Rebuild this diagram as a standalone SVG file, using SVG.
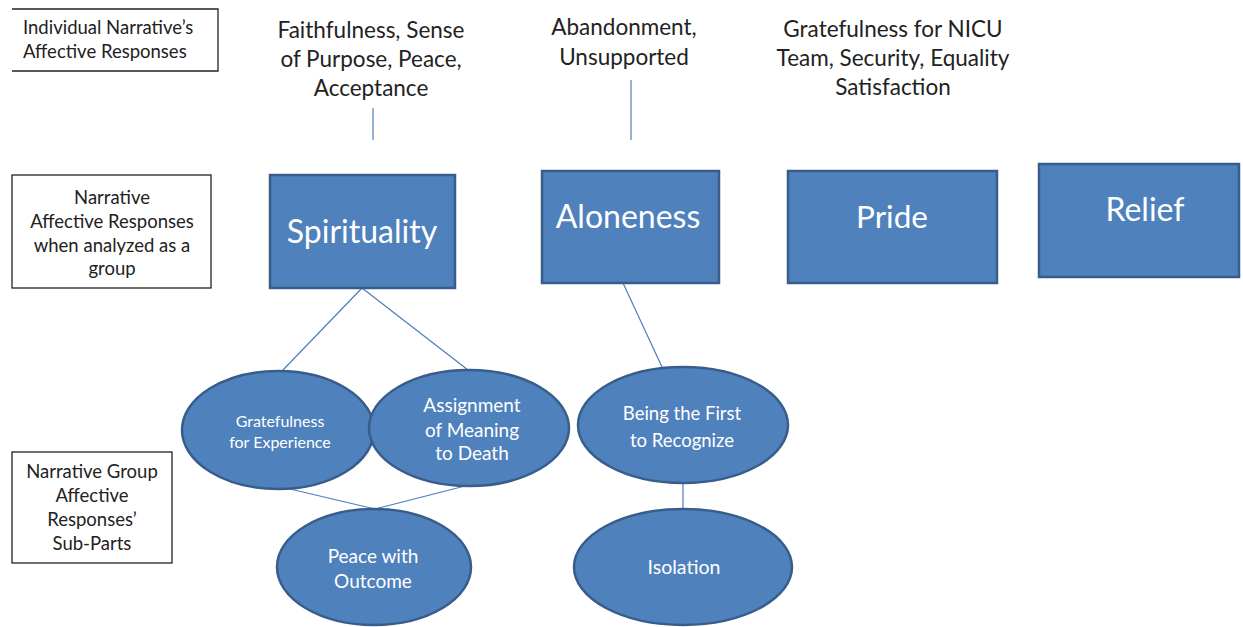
<svg xmlns="http://www.w3.org/2000/svg" width="1243" height="627" viewBox="0 0 1243 627">
<style>
.lbl{fill:#fff;stroke:#222;stroke-width:1.3}
.lt{font-family:Lato,"Liberation Sans",sans-serif;font-size:18.5px;fill:#222}
.top{font-family:Lato,"Liberation Sans",sans-serif;font-size:22.5px;fill:#222;text-anchor:middle}
.box{fill:#4F81BD;stroke:#385D8A;stroke-width:2.5}
.ell{fill:#4F81BD;stroke:#385D8A;stroke-width:2.5}
.bt{font-family:Lato,"Liberation Sans",sans-serif;fill:#fff;text-anchor:middle}
.con{stroke:#4A7EBB;stroke-width:1.2;fill:none}
</style>
<rect width="1243" height="627" fill="#fff"/>
<g id="label-individual">
<path class="lbl" d="M12,9 H218 V71 H12" fill="none"/>
<text class="lt" x="23" y="34">Individual Narrative’s</text>
<text class="lt" x="23" y="58">Affective Responses</text>
</g>
<g id="label-group">
<rect class="lbl" x="12" y="175" width="199" height="113"/>
<text class="lt" text-anchor="middle" x="112" y="204">Narrative</text>
<text class="lt" text-anchor="middle" x="112" y="228">Affective Responses</text>
<text class="lt" text-anchor="middle" x="112" y="252">when analyzed as a</text>
<text class="lt" text-anchor="middle" x="112" y="275">group</text>
</g>
<g id="label-subparts">
<rect class="lbl" x="12" y="452" width="160" height="111"/>
<text class="lt" text-anchor="middle" x="92" y="478">Narrative Group</text>
<text class="lt" text-anchor="middle" x="92" y="502">Affective</text>
<text class="lt" text-anchor="middle" x="92" y="526">Responses’</text>
<text class="lt" text-anchor="middle" x="92" y="550">Sub-Parts</text>
</g>
<g id="text-spirituality-responses">
<text class="top" x="371" y="38">Faithfulness, Sense</text>
<text class="top" x="371" y="67">of Purpose, Peace,</text>
<text class="top" x="371" y="96">Acceptance</text>
</g>
<g id="text-aloneness-responses">
<text class="top" x="624" y="35">Abandonment,</text>
<text class="top" x="624" y="65">Unsupported</text>
</g>
<g id="text-pride-responses">
<text class="top" x="893" y="37">Gratefulness for NICU</text>
<text class="top" x="893" y="66">Team, Security, Equality</text>
<text class="top" x="893" y="95">Satisfaction</text>
</g>
<g id="connectors">
<line class="con" x1="373" y1="108" x2="373" y2="140"/>
<line class="con" x1="631" y1="80" x2="631" y2="140"/>
<line class="con" x1="362" y1="288" x2="282" y2="371"/>
<line class="con" x1="362" y1="288" x2="468" y2="370"/>
<line class="con" x1="623" y1="283" x2="662" y2="367"/>
<line class="con" x1="290" y1="489" x2="375" y2="509"/>
<line class="con" x1="465" y1="486" x2="375" y2="509"/>
<line class="con" x1="683" y1="483" x2="683" y2="509"/>
</g>
<g id="node-spirituality">
<rect class="box" x="270" y="175" width="185" height="113"/>
<text class="bt" x="362" y="243" font-size="32">Spirituality</text>
</g>
<g id="node-aloneness">
<rect class="box" x="542" y="171" width="177" height="112"/>
<text class="bt" x="628" y="228" font-size="32">Aloneness</text>
</g>
<g id="node-pride">
<rect class="box" x="788" y="171" width="209" height="112"/>
<text class="bt" x="892" y="228" font-size="31.5">Pride</text>
</g>
<g id="node-relief">
<rect class="box" x="1039" y="164" width="200" height="113"/>
<text class="bt" x="1145" y="221" font-size="32">Relief</text>
</g>
<g id="node-gratefulness">
<ellipse class="ell" cx="278" cy="430" rx="96" ry="59"/>
<text class="bt" x="280" y="427" font-size="16">Gratefulness</text>
<text class="bt" x="280" y="448" font-size="16">for Experience</text>
</g>
<g id="node-assignment">
<ellipse class="ell" cx="469" cy="428" rx="100" ry="58"/>
<text class="bt" x="472" y="412" font-size="19">Assignment</text>
<text class="bt" x="472" y="437" font-size="19">of Meaning</text>
<text class="bt" x="472" y="460" font-size="19">to Death</text>
</g>
<g id="node-being-first">
<ellipse class="ell" cx="683" cy="425" rx="105" ry="58"/>
<text class="bt" x="682" y="420" font-size="18.5">Being the First</text>
<text class="bt" x="682" y="447" font-size="18.5">to Recognize</text>
</g>
<g id="node-peace">
<ellipse class="ell" cx="374" cy="567" rx="97" ry="58"/>
<text class="bt" x="373" y="563" font-size="19">Peace with</text>
<text class="bt" x="373" y="588" font-size="19">Outcome</text>
</g>
<g id="node-isolation">
<ellipse class="ell" cx="683" cy="567" rx="109" ry="58"/>
<text class="bt" x="684" y="574" font-size="19.5">Isolation</text>
</g>
</svg>
